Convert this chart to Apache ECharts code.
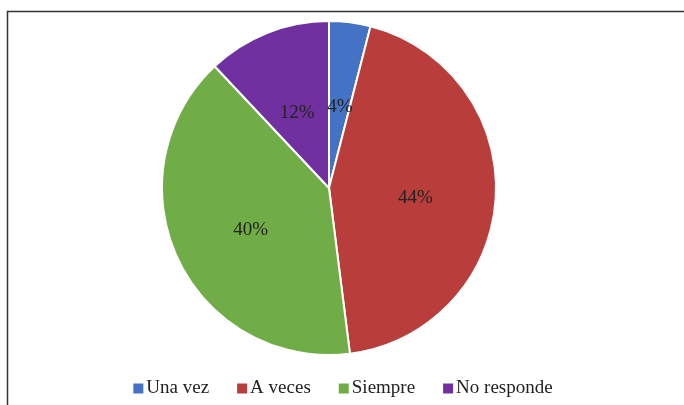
<!DOCTYPE html>
<html><head><meta charset="utf-8">
<script src="https://cdn.jsdelivr.net/npm/echarts@6/dist/echarts.min.js"></script>
<style>html,body{margin:0;padding:0;background:#fff}#c{width:684px;height:405px}</style>
</head><body><div id="c"></div>
<script>
const categories = ['Una vez', 'A veces', 'Siempre', 'No responde'];
const values = [4, 44, 40, 12];
const colors = ['#4472C4', '#B83D3B', '#70AD47', '#7030A0'];

const chart = echarts.init(document.getElementById('c'));
chart.setOption({
  animation: false,
  color: colors,
  graphic: [{
    type: 'rect', shape: {x: 7.5, y: 11.5, width: 700, height: 420},
    style: {fill: 'none', stroke: '#333', lineWidth: 1.5}, silent: true
  }],
  legend: {
    bottom: 2, left: 'center',
    itemWidth: 12, itemHeight: 12, itemGap: 26,
    icon: 'rect',
    textStyle: {fontFamily: 'Liberation Serif', fontSize: 19, color: '#222', padding: [0,0,0,-3]},
    data: categories
  },
  series: [{
    type: 'pie',
    center: [329, 188], radius: [0, 167],
    startAngle: 90, clockwise: true,
    itemStyle: {borderColor: '#fff', borderWidth: 2},
    label: {position: 'inside', formatter: '{d}%', fontFamily: 'Liberation Serif', fontSize: 19, color: '#222', offset: [0, 5]},
    labelLine: {show: false},
    data: categories.map((n, i) => ({name: n, value: values[i]}))
  }]
});
</script></body></html>
